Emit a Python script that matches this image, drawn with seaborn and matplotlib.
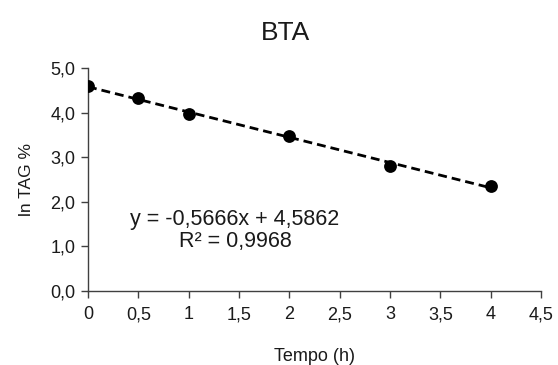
import matplotlib
matplotlib.use("Agg")
import matplotlib.pyplot as plt
import seaborn as sns
import pandas as pd
import numpy as np
from matplotlib.ticker import FuncFormatter

tempo = [0, 0.5, 1, 2, 3, 4]
ln_tag = [4.60, 4.32, 3.96, 3.48, 2.81, 2.36]
xticks = [0, 0.5, 1, 1.5, 2, 2.5, 3, 3.5, 4, 4.5]
yticks = [0, 1, 2, 3, 4, 5]

df = pd.DataFrame({"Tempo": tempo, "lnTAG": ln_tag})

sns.set_style("white")
plt.rcParams['font.family'] = ['Liberation Sans', 'DejaVu Sans']

fig = plt.figure(figsize=(5.58, 3.65), dpi=100)
ax = fig.add_axes([0.1577, 0.2027, 0.8118, 0.611])

sns.regplot(data=df, x="Tempo", y="lnTAG", ax=ax, ci=None, truncate=True,
            scatter_kws=dict(s=85, color="black", alpha=1, zorder=3, edgecolor="black", linewidths=0),
            line_kws=dict(color="black", linestyle=(0, (3.2, 1.8)), linewidth=2.0))

ax.set_xlim(0, 4.5)
ax.set_ylim(0, 5)
ax.set_xticks(xticks)
ax.set_yticks(yticks)

def fx(v, p):
    return f"{v:g}".replace(".", ",")
def fy(v, p):
    return f"{v:.1f}".replace(".", ",")
ax.xaxis.set_major_formatter(FuncFormatter(fx))
ax.yaxis.set_major_formatter(FuncFormatter(fy))

for s in ["top", "right"]:
    ax.spines[s].set_visible(False)
for s in ["left", "bottom"]:
    ax.spines[s].set_color("#404040")
    ax.spines[s].set_linewidth(1)
ax.tick_params(axis="both", direction="out", length=5, width=1, color="#404040",
               labelsize=13, labelcolor="#1a1a1a", bottom=True, left=True)
ax.tick_params(axis="x", pad=6)
ax.tick_params(axis="y", pad=4)

ax.set_xlabel("Tempo (h)", fontsize=13, color="#1a1a1a", labelpad=18)
ax.set_ylabel("ln TAG %", fontsize=12.5, color="#1a1a1a", labelpad=12)
fig.text(0.512, 0.91, "BTA", fontsize=19, color="#1a1a1a", ha="center", va="center")

ax.text(1.46, 1.61, "y = -0,5666x + 4,5862", fontsize=15.5, color="#1a1a1a", ha="center", va="center")
ax.text(1.46, 1.10, "R² = 0,9968", fontsize=15.5, color="#1a1a1a", ha="center", va="center")

fig.savefig("out.png", dpi=100)
